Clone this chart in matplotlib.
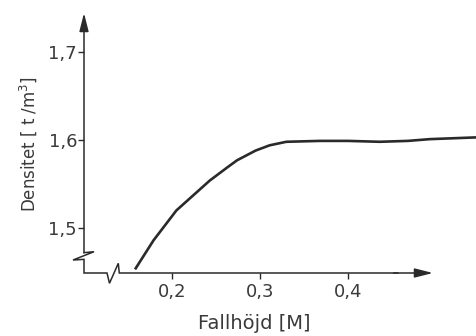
import matplotlib
matplotlib.use("Agg")
import matplotlib.pyplot as plt

# data
fall_height = [0.158, 0.179, 0.205, 0.224, 0.243, 0.263, 0.274, 0.295, 0.311,
               0.330, 0.368, 0.400, 0.436, 0.468, 0.493, 0.546]
density = [1.453, 1.486, 1.520, 1.537, 1.554, 1.569, 1.577, 1.588, 1.594,
           1.598, 1.599, 1.599, 1.598, 1.599, 1.601, 1.603]

x_ticks = [0.2, 0.3, 0.4]
x_ticklabels = ["0,2", "0,3", "0,4"]
y_ticks = [1.5, 1.6, 1.7]
y_ticklabels = ["1,5", "1,6", "1,7"]

ink = "#2a2a2a"
txt = "#3a3a3a"

fig = plt.figure(figsize=(4.76, 3.36), dpi=100)
ax = fig.add_axes([84 / 476, 63 / 336, 392 / 476, 273 / 336])
ax.set_xlim(0.1, 0.5455)
ax.set_ylim(1.4489, 1.7591)

ax.plot(fall_height, density, color=ink, lw=1.9, solid_capstyle="butt",
        solid_joinstyle="round", clip_on=False)

for s in ax.spines.values():
    s.set_visible(False)

ax.set_xticks(x_ticks)
ax.set_xticklabels(x_ticklabels)
ax.set_yticks(y_ticks)
ax.set_yticklabels(y_ticklabels)
ax.tick_params(axis="both", direction="out", length=4, width=1.0, color=ink,
               labelcolor=txt, labelsize=13)
ax.tick_params(axis="x", pad=3)
ax.tick_params(axis="y", pad=1)

# axis lines with breaks and arrows (axes fraction coordinates)
brk_x = [0, 0.0255, -0.028, 0, 0, 0.0587, 0.065, 0.0875, 0.090, 0.80]
brk_y = [0.0744, 0.078, 0.0476, 0.050, 0, 0, -0.0377, 0.0355, 0, 0]
ax.plot(brk_x, brk_y, transform=ax.transAxes, color=ink, lw=1.1,
        clip_on=False, solid_joinstyle="miter")
arrow = dict(arrowstyle="-|>,head_length=1.1,head_width=0.28", lw=1.1,
             color=ink, mutation_scale=10, shrinkA=0, shrinkB=0)
ax.annotate("", xy=(0, 0.952), xytext=(0, 0.0744), xycoords="axes fraction",
            textcoords="axes fraction", arrowprops=arrow)
ax.annotate("", xy=(0.890, 0), xytext=(0.79, 0), xycoords="axes fraction",
            textcoords="axes fraction", arrowprops=arrow)

ax.set_xlabel("Fallhöjd [M]", fontsize=14, color=txt)
ax.set_ylabel("Densitet [ t /m$^3$]", fontsize=12, color=txt)
ax.xaxis.set_label_coords((254 - 84) / 392, -(314 - 273) / 273)
ax.yaxis.set_label_coords(-(84 - 39) / 392, (273 - 144) / 273)

fig.savefig("out.png", dpi=100)
